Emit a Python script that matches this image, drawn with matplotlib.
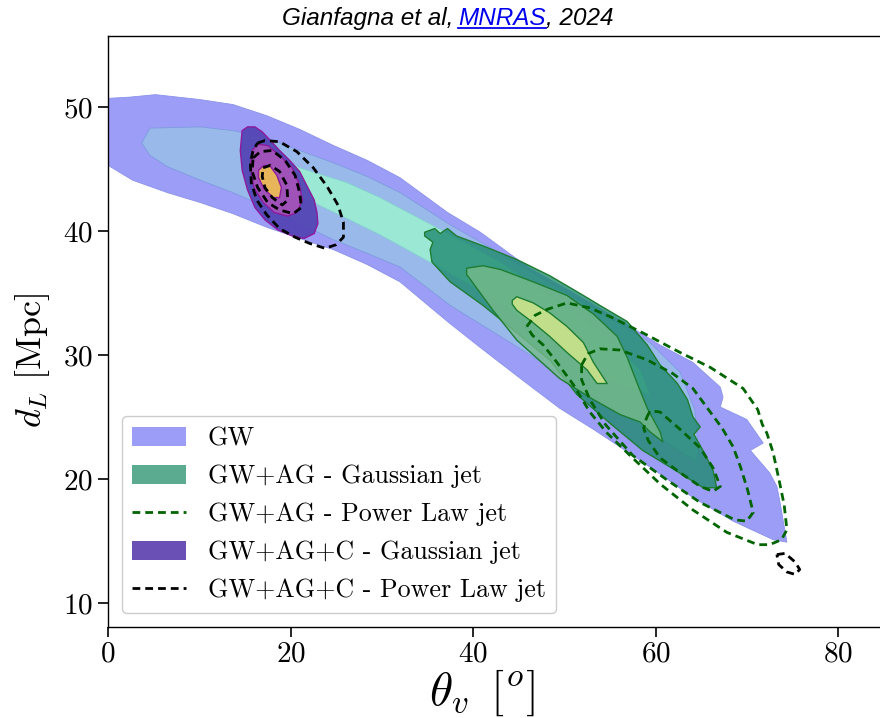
import matplotlib
matplotlib.use("Agg")
import matplotlib.pyplot as plt
from matplotlib.patches import Patch
from matplotlib.lines import Line2D
from matplotlib.colors import to_rgba

plt.rcParams['font.family'] = ['cmr10', 'DejaVu Serif']
plt.rcParams['mathtext.fontset'] = 'cm'
plt.rcParams['axes.unicode_minus'] = False
plt.rcParams['axes.formatter.use_mathtext'] = True

# credible-region outlines, (theta_v [deg], d_L [Mpc])
gw_90 = [(0.0, 50.7), (2.4, 50.8), (5.2, 51.0), (10.1, 50.6), (13.7, 50.2), (17.4, 49.3),
         (21.0, 48.2), (24.7, 46.9), (28.4, 45.7), (32.0, 44.3), (37.2, 41.5), (40.8, 39.9),
         (46.2, 37.0), (51.7, 34.7), (57.2, 32.3), (60.5, 30.8), (64.1, 29.4), (67.1, 27.4),
         (67.4, 26.6), (67.1, 25.8), (70.0, 24.8), (71.8, 22.9), (70.4, 22.3), (72.5, 20.5),
         (73.3, 19.4), (73.6, 18.3), (74.4, 14.9), (72.9, 15.1), (68.5, 16.6), (64.1, 18.5),
         (60.5, 20.4), (56.9, 22.2), (53.2, 24.0), (49.5, 25.7), (45.2, 28.1), (40.8, 30.6),
         (37.2, 32.7), (32.0, 35.9), (28.4, 37.3), (24.7, 38.5), (21.0, 39.4), (17.4, 40.3),
         (13.7, 41.4), (10.1, 42.3), (6.5, 43.1), (2.7, 44.1), (0.0, 45.3)]
gw_50 = [(3.7, 47.1), (4.6, 48.3), (10.1, 48.4), (13.7, 48.1), (17.4, 47.5), (21.0, 46.5),
         (24.7, 45.5), (28.4, 44.4), (32.0, 43.1), (37.5, 40.5), (43.0, 38.2), (48.4, 35.8),
         (53.9, 33.5), (59.4, 31.0), (62.7, 28.6), (64.3, 25.6), (64.7, 22.3), (64.5, 21.5),
         (63.8, 21.7), (59.4, 23.8), (53.9, 26.4), (48.4, 29.0), (43.0, 31.5), (37.5, 34.0),
         (32.0, 37.1), (28.4, 38.2), (24.7, 39.3), (21.0, 40.6), (17.4, 41.9), (13.7, 43.1),
         (10.1, 44.1), (6.5, 45.2), (4.6, 46.1)]
gw_10 = [(17.5, 46.4), (21.0, 45.1), (26.2, 43.9), (29.8, 42.7), (33.4, 41.3), (37.5, 39.7),
         (43.0, 37.5), (48.4, 34.8), (53.9, 32.0), (58.3, 28.8), (59.4, 26.8), (56.1, 27.6),
         (51.7, 29.6), (46.2, 32.4), (40.8, 35.2), (34.5, 37.8), (29.8, 39.7), (26.2, 41.0),
         (22.5, 42.3), (18.8, 43.5), (16.9, 44.9)]

ag_g90 = [(34.7, 39.9), (35.8, 40.2), (36.4, 39.8), (37.2, 40.2), (38.2, 39.6), (41.1, 38.8),
          (44.8, 37.7), (48.4, 36.4), (52.1, 34.8), (53.9, 34.0), (56.9, 32.7), (59.1, 30.8),
          (60.5, 29.2), (62.4, 27.7), (63.5, 26.4), (64.1, 25.0), (64.9, 24.2), (64.2, 23.6),
          (65.2, 22.3), (66.3, 20.7), (66.7, 19.3), (65.2, 19.3), (62.4, 20.6), (58.6, 22.3),
          (55.0, 24.5), (51.4, 26.8), (48.4, 29.6), (44.8, 31.8), (41.1, 34.0), (37.5, 35.9),
          (35.5, 37.5), (35.3, 38.5), (35.6, 39.1), (34.7, 39.6)]
ag_g50 = [(39.3, 37.0), (41.1, 37.2), (43.0, 36.9), (46.6, 35.9), (50.3, 34.8), (53.2, 33.3),
          (55.8, 31.5), (56.9, 29.8), (58.0, 27.7), (59.1, 25.7), (60.5, 23.8), (60.8, 23.0),
          (59.4, 23.8), (58.3, 24.6), (56.1, 25.2), (53.2, 26.4), (49.5, 28.1), (44.8, 31.2),
          (42.2, 33.6), (40.4, 35.4), (39.3, 36.5)]
ag_g10 = [(44.3, 34.4), (44.8, 34.7), (46.6, 34.2), (48.4, 33.4), (50.3, 32.3), (52.1, 31.0),
          (53.2, 29.4), (54.7, 27.7), (53.6, 27.7), (52.5, 28.8), (50.3, 30.2), (48.4, 31.5),
          (46.6, 32.6), (44.8, 33.6), (44.3, 34.1)]

ag_p90 = [(45.9, 32.3), (46.8, 33.2), (48.2, 33.7), (50.3, 34.2), (52.8, 33.8), (55.3, 33.0),
          (59.1, 31.6), (62.7, 30.2), (66.0, 29.0), (69.6, 27.3), (71.2, 25.6), (71.7, 24.4),
          (72.2, 23.7), (72.9, 22.1), (73.6, 19.7), (74.1, 17.9), (74.4, 15.9), (73.8, 15.1),
          (72.5, 14.7), (71.2, 14.7), (67.8, 15.7), (64.1, 17.5), (60.5, 19.6), (57.2, 21.9),
          (54.7, 23.7), (52.8, 25.4), (51.0, 27.6), (49.2, 29.4), (47.7, 30.8), (46.5, 31.6)]
ag_p50 = [(51.9, 29.2), (52.6, 30.1), (53.9, 30.5), (56.1, 30.4), (59.1, 29.6), (61.9, 28.5),
          (64.1, 27.3), (65.6, 25.8), (67.3, 24.1), (68.5, 22.6), (69.3, 21.0), (70.1, 19.1),
          (70.7, 17.3), (70.0, 16.6), (68.7, 16.7), (64.9, 18.1), (61.3, 19.9), (57.5, 21.9),
          (54.5, 24.4), (52.8, 26.4), (51.9, 28.0)]
ag_p10 = [(59.0, 24.9), (59.4, 25.5), (60.5, 25.4), (62.7, 24.0), (64.9, 22.5), (66.3, 20.9),
          (67.1, 19.4), (66.3, 19.0), (64.9, 19.4), (62.7, 20.5), (60.5, 21.7), (59.2, 23.1),
          (58.7, 24.1)]

agc_g90 = [(14.7, 48.1), (15.3, 48.4), (16.1, 48.4), (16.9, 48.0), (17.8, 47.3), (18.8, 46.5),
           (19.9, 45.7), (21.0, 44.8), (21.9, 43.5), (22.6, 42.5), (22.9, 41.5), (23.0, 40.6),
           (22.6, 39.8), (21.5, 39.4), (20.2, 39.6), (18.6, 40.1), (17.2, 40.9), (16.1, 41.9),
           (15.3, 43.3), (14.7, 44.9), (14.5, 46.5)]
agc_g50 = [(15.8, 46.5), (16.4, 47.0), (17.5, 46.9), (18.8, 46.1), (20.2, 45.1), (21.0, 43.7),
           (21.3, 42.5), (20.7, 41.5), (19.7, 41.2), (18.2, 41.5), (17.0, 42.3), (16.0, 43.5),
           (15.6, 45.1)]
agc_g10 = [(16.5, 44.9), (17.1, 45.3), (17.8, 45.2), (18.5, 44.5), (19.0, 43.5), (18.8, 42.7),
           (18.1, 42.7), (17.1, 43.4), (16.5, 44.3)]

agc_p90 = [(16.4, 47.1), (17.2, 47.3), (18.8, 47.2), (20.7, 46.4), (22.5, 45.1), (24.0, 43.6),
           (25.2, 42.1), (25.8, 40.7), (25.8, 39.5), (25.0, 38.9), (23.8, 38.6), (22.1, 39.0),
           (20.5, 39.5), (18.8, 40.2), (17.4, 41.3), (16.3, 42.5), (15.7, 43.9), (15.6, 45.5),
           (15.9, 46.5)]
agc_p90_tail = [(73.3, 13.9), (74.2, 14.0), (75.3, 13.3), (75.8, 12.7), (75.3, 12.3),
                (74.4, 12.5), (73.5, 13.1)]
agc_p50 = [(15.9, 45.9), (16.7, 46.4), (18.0, 46.5), (19.4, 45.7), (20.5, 44.5), (21.0, 43.1),
           (21.2, 41.9), (20.3, 41.4), (18.8, 41.7), (17.5, 42.3), (16.4, 43.5), (15.8, 44.8)]
agc_p10 = [(17.0, 45.1), (17.8, 45.3), (18.8, 44.8), (19.6, 43.7), (19.7, 42.5), (19.1, 42.1),
           (18.0, 42.7), (17.2, 43.5), (16.9, 44.4)]

labels = ['GW', 'GW+AG - Gaussian jet', 'GW+AG - Power Law jet',
          'GW+AG+C - Gaussian jet', 'GW+AG+C - Power Law jet']
x_ticks = [0, 20, 40, 60, 80]
y_ticks = [10, 20, 30, 40, 50]


def filled(ax, poly, face, alpha, edge, lw):
    xs, ys = zip(*poly)
    ax.fill(xs, ys, facecolor=to_rgba(face, alpha), edgecolor=edge, lw=lw,
            joinstyle='round')


def dashed(ax, poly, color):
    xs, ys = zip(*poly)
    ax.fill(xs, ys, facecolor='none', edgecolor=color, lw=2.0,
            linestyle=(0, (2.8, 1.8)), joinstyle='round')


fig = plt.figure(figsize=(8.8, 7.18), dpi=100)
ax = fig.add_axes([108 / 880, 91 / 718, 772 / 880, 591 / 718])

# GW only
filled(ax, gw_90, '#9c9df7', 1.0, '#8a92ea', 0.6)
filled(ax, gw_50, '#98b9ea', 1.0, '#7f9be0', 0.6)
filled(ax, gw_10, '#9be9d5', 1.0, '#86cfd0', 0.6)

# GW+AG gaussian jet
filled(ax, ag_g90, '#1f8a70', 0.8, '#1e7d32', 1.0)
filled(ax, ag_g50, '#77ba8b', 0.8, '#1e7d32', 1.0)
filled(ax, ag_g10, '#d8e98b', 0.8, '#1e7d32', 1.0)

# GW+AG power law jet
for poly in (ag_p90, ag_p50, ag_p10):
    dashed(ax, poly, 'darkgreen')

# GW+AG+C gaussian jet
filled(ax, agc_g90, '#5242b4', 0.92, '#8e1b9c', 1.0)
filled(ax, agc_g50, '#a453b8', 0.95, '#8e1b9c', 1.0)
filled(ax, agc_g10, '#e8b65a', 1.0, '#8e1b9c', 1.0)

# GW+AG+C power law jet
for poly in (agc_p90, agc_p90_tail, agc_p50, agc_p10):
    dashed(ax, poly, 'black')

ax.set_xlim(0, 84.6)
ax.set_ylim(8.06, 55.73)
ax.set_xticks(x_ticks)
ax.set_yticks(y_ticks)
ax.tick_params(labelsize=21, length=7, width=1.2, direction='out')
ax.spines['right'].set_visible(False)
for s in ('left', 'bottom', 'top'):
    ax.spines[s].set_linewidth(1.0)

ax.set_xlabel(r'$\theta_v\ \,[^o]$', fontsize=34)
ax.set_ylabel(r'$d_L\ [\mathrm{Mpc}]$', fontsize=26)
ax.xaxis.set_label_coords(0.484, -0.068)
ax.yaxis.set_label_coords(-0.072, 0.452)

handles = [Patch(facecolor='#9c9df7', edgecolor='none'),
           Patch(facecolor='#5aab8f', edgecolor='none'),
           Line2D([], [], color='darkgreen', lw=2, linestyle=(0, (2.8, 1.8))),
           Patch(facecolor='#6a50b5', edgecolor='none'),
           Line2D([], [], color='black', lw=2, linestyle=(0, (2.8, 1.8)))]
leg = ax.legend(handles, labels, loc='lower left', bbox_to_anchor=(0.018, 0.024),
                borderaxespad=0, fontsize=18.7, handlelength=2.05, handleheight=0.72,
                labelspacing=0.55, handletextpad=0.85, borderpad=0.4,
                fancybox=True, framealpha=1.0, edgecolor='#cccccc')

# title with a blue underlined journal name
y_base = 1 - 25 / 718
tprops = dict(fontsize=17.5, style='italic', family='Liberation Sans', va='baseline')
fig.canvas.draw()
renderer = fig.canvas.get_renderer()
t1 = fig.text(282 / 880, y_base, 'Gianfagna et al,', **tprops)
b1 = t1.get_window_extent(renderer)
space = 5
t2 = fig.text((b1.x1 + space) / 880, y_base, 'MNRAS', color='#0000ee', **tprops)
b2 = t2.get_window_extent(renderer)
t3 = fig.text(b2.x1 / 880, y_base, ', 2024', **tprops)
uy = y_base - 2.5 / 718
fig.add_artist(Line2D([b2.x0 / 880, b2.x1 / 880], [uy, uy], color='#0000ee', lw=1.3,
                      transform=fig.transFigure))

fig.savefig('out.png', dpi=100)
